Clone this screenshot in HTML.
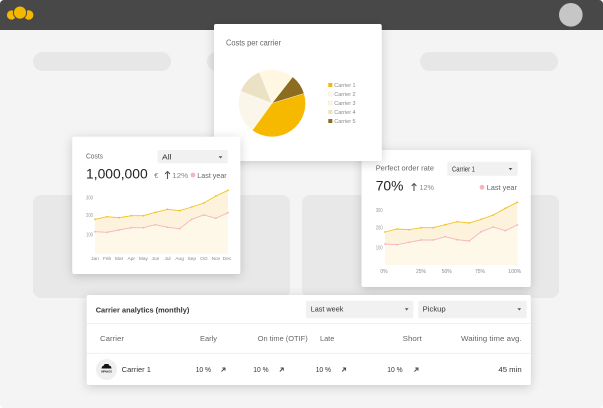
<!DOCTYPE html>
<html><head><meta charset="utf-8"><style>
html,body{margin:0;padding:0;background:#fff;}
svg{display:block;}
text{font-family:"Liberation Sans",sans-serif;}
</style></head><body>
<svg width="603" height="408" viewBox="0 0 603 408" xmlns="http://www.w3.org/2000/svg">
<defs>
<filter id="sh" x="-20%" y="-25%" width="140%" height="160%">
<feDropShadow dx="0" dy="2" stdDeviation="5" flood-color="#000" flood-opacity="0.18"/>
</filter>
</defs>
<!-- frame -->
<rect x="0" y="0" width="603" height="408" rx="4" fill="#f4f4f4"/>
<path d="M0 4 A4 4 0 0 1 4 0 H599 A4 4 0 0 1 603 4 V30 H0 Z" fill="#484848"/>
<!-- logo -->
<circle cx="11.5" cy="15" r="4.6" fill="#f5b800"/>
<circle cx="28.7" cy="15" r="4.7" fill="#f5b800"/>
<circle cx="20" cy="12.6" r="6.6" fill="#f5b800" stroke="#484848" stroke-width="1"/>
<!-- avatar -->
<circle cx="570.8" cy="14.8" r="11.8" fill="#c6c6c6"/>
<!-- pills -->
<rect x="33" y="52" width="138" height="19" rx="9.5" fill="#e7e7e7"/>
<rect x="207" y="52" width="138" height="19" rx="9.5" fill="#e7e7e7"/>
<rect x="420" y="52" width="138" height="19" rx="9.5" fill="#e7e7e7"/>
<!-- big gray blocks -->
<rect x="33" y="195" width="257" height="103" rx="8" fill="#e8e8e8"/>
<rect x="302" y="195" width="257" height="103" rx="8" fill="#e8e8e8"/>

<!-- Perfect order card -->
<rect x="361.5" y="150" width="169.2" height="137" rx="2" fill="#fff" filter="url(#sh)"/>
<text x="375.7" y="170.5" font-size="7.5" fill="#666" textLength="58.3" lengthAdjust="spacingAndGlyphs">Perfect order rate</text>
<rect x="447.3" y="161.7" width="70.4" height="14" rx="1" fill="#f1f1f1"/>
<text x="452" y="171.3" font-size="7.5" fill="#333" textLength="23" lengthAdjust="spacingAndGlyphs">Carrier 1</text>
<path d="M508.6 168 L512.4 168 L510.5 170.2 Z" fill="#555"/>
<text x="375.7" y="190.6" font-size="14" fill="#222" textLength="27.7" lengthAdjust="spacingAndGlyphs">70%</text>
<path d="M414 191 V183.5 M411.6 186 L414 183.5 L416.4 186" stroke="#555" stroke-width="1.1" fill="none"/>
<text x="419.5" y="190" font-size="7" fill="#888" textLength="14.5" lengthAdjust="spacingAndGlyphs">12%</text>
<circle cx="482" cy="187.3" r="2.4" fill="#f6b4be"/>
<text x="486.7" y="190.2" font-size="7.5" fill="#666" textLength="30.3" lengthAdjust="spacingAndGlyphs">Last year</text>
<g font-size="5.2" fill="#999">
<text x="375.7" y="211.9" textLength="7" lengthAdjust="spacingAndGlyphs">300</text>
<text x="375.7" y="229.4" textLength="7" lengthAdjust="spacingAndGlyphs">200</text>
<text x="375.7" y="249.4" textLength="7" lengthAdjust="spacingAndGlyphs">100</text>
</g>
<polygon points="385,265 385,232 397.03,229 409.06,229.7 421.09,227.7 433.12,227.7 445.15,224.7 457.18,221.7 469.21,223 481.24,219.3 493.27,215 505.3,208.3 517.33,202.3 517.33,265" fill="#fdf3dd"/>
<polygon points="385,265 385,244 397.03,244.7 409.06,242.3 421.09,240 433.12,240 445.15,236.7 457.18,239.7 469.21,241 481.24,231.7 493.27,227 505.3,230.7 517.33,225 517.33,265" fill="#fef8e8"/>
<polyline points="385,232 397.03,229 409.06,229.7 421.09,227.7 433.12,227.7 445.15,224.7 457.18,221.7 469.21,223 481.24,219.3 493.27,215 505.3,208.3 517.33,202.3" fill="none" stroke="#f4c21c" stroke-width="0.9"/>
<polyline points="385,244 397.03,244.7 409.06,242.3 421.09,240 433.12,240 445.15,236.7 457.18,239.7 469.21,241 481.24,231.7 493.27,227 505.3,230.7 517.33,225" fill="none" stroke="#f6b4be" stroke-width="0.9"/>
<g fill="#f4c21c">
<circle cx="385" cy="232" r="0.9"/><circle cx="397.03" cy="229" r="0.9"/><circle cx="409.06" cy="229.7" r="0.9"/><circle cx="421.09" cy="227.7" r="0.9"/><circle cx="433.12" cy="227.7" r="0.9"/><circle cx="445.15" cy="224.7" r="0.9"/><circle cx="457.18" cy="221.7" r="0.9"/><circle cx="469.21" cy="223" r="0.9"/><circle cx="481.24" cy="219.3" r="0.9"/><circle cx="493.27" cy="215" r="0.9"/><circle cx="505.3" cy="208.3" r="0.9"/><circle cx="517.33" cy="202.3" r="0.9"/>
</g>
<g fill="#f6b4be">
<circle cx="385" cy="244" r="0.9"/><circle cx="397.03" cy="244.7" r="0.9"/><circle cx="409.06" cy="242.3" r="0.9"/><circle cx="421.09" cy="240" r="0.9"/><circle cx="433.12" cy="240" r="0.9"/><circle cx="445.15" cy="236.7" r="0.9"/><circle cx="457.18" cy="239.7" r="0.9"/><circle cx="469.21" cy="241" r="0.9"/><circle cx="481.24" cy="231.7" r="0.9"/><circle cx="493.27" cy="227" r="0.9"/><circle cx="505.3" cy="230.7" r="0.9"/><circle cx="517.33" cy="225" r="0.9"/>
</g>
<g font-size="5" fill="#888" text-anchor="middle">
<text x="384" y="273">0%</text>
<text x="421" y="273">25%</text>
<text x="446.7" y="273">50%</text>
<text x="480" y="273">75%</text>
<text x="514.7" y="273">100%</text>
</g>

<!-- Pie card -->
<rect x="214" y="24" width="167.7" height="137" rx="2" fill="#fff" filter="url(#sh)"/>
<text x="226" y="45.3" font-size="8" fill="#666" textLength="55" lengthAdjust="spacingAndGlyphs">Costs per carrier</text>
<g stroke="#fff" stroke-width="0.3">
<path d="M272 103.3 L292.63 76.90 A33.5 33.5 0 0 1 304.04 93.50 Z" fill="#8c6d1f"/>
<path d="M272 103.3 L304.04 93.50 A33.5 33.5 0 0 1 252.31 130.40 Z" fill="#f6b900"/>
<path d="M272 103.3 L252.31 130.40 A33.5 33.5 0 0 1 240.72 91.29 Z" fill="#fbf6ea"/>
<path d="M272 103.3 L240.72 91.29 A33.5 33.5 0 0 1 259.45 72.24 Z" fill="#ebe1c4"/>
<path d="M272 103.3 L259.45 72.24 A33.5 33.5 0 0 1 292.63 76.90 Z" fill="#fff7e1"/>
</g>
<rect x="328.3" y="83" width="4" height="4" fill="#f6b900"/>
<rect x="328.3" y="92" width="4" height="4" fill="#fdf8ec" stroke="#f1e8d2" stroke-width="0.4"/>
<rect x="328.3" y="101" width="4" height="4" fill="#fff6dc" stroke="#f1e8d2" stroke-width="0.4"/>
<rect x="328.3" y="110" width="4" height="4" fill="#ebe0c0"/>
<rect x="328.3" y="119" width="4" height="4" fill="#8c6d1f"/>
<g font-size="5.5" fill="#888">
<text x="334.3" y="87" textLength="21.3" lengthAdjust="spacingAndGlyphs">Carrier 1</text>
<text x="334.3" y="96" textLength="21.3" lengthAdjust="spacingAndGlyphs">Carrier 2</text>
<text x="334.3" y="105" textLength="21.3" lengthAdjust="spacingAndGlyphs">Carrier 3</text>
<text x="334.3" y="114" textLength="21.3" lengthAdjust="spacingAndGlyphs">Carrier 4</text>
<text x="334.3" y="123" textLength="21.3" lengthAdjust="spacingAndGlyphs">Carrier 5</text>
</g>

<!-- Costs card -->
<rect x="72.3" y="136.7" width="168" height="137.3" rx="2" fill="#fff" filter="url(#sh)"/>
<text x="86" y="158.5" font-size="7.5" fill="#666" textLength="17" lengthAdjust="spacingAndGlyphs">Costs</text>
<rect x="157.7" y="150" width="70" height="13.3" rx="1" fill="#f1f1f1"/>
<text x="162" y="159.6" font-size="7.5" fill="#333" textLength="9.5" lengthAdjust="spacingAndGlyphs">All</text>
<path d="M218.6 156.3 L222.4 156.3 L220.5 158.5 Z" fill="#555"/>
<text x="86" y="178.6" font-size="14" fill="#222" textLength="61.7" lengthAdjust="spacingAndGlyphs">1,000,000</text>
<text x="154.3" y="178" font-size="7" fill="#777">€</text>
<path d="M167.5 179 V171.5 M165.1 174 L167.5 171.5 L169.9 174" stroke="#555" stroke-width="1.1" fill="none"/>
<text x="172.3" y="178" font-size="7" fill="#888" textLength="16" lengthAdjust="spacingAndGlyphs">12%</text>
<circle cx="193" cy="175" r="2.4" fill="#f6b4be"/>
<text x="197.3" y="178" font-size="7.5" fill="#666" textLength="29.4" lengthAdjust="spacingAndGlyphs">Last year</text>
<g font-size="5.2" fill="#999">
<text x="86" y="199.7" textLength="7" lengthAdjust="spacingAndGlyphs">300</text>
<text x="86" y="217.2" textLength="7" lengthAdjust="spacingAndGlyphs">200</text>
<text x="86" y="236.7" textLength="7" lengthAdjust="spacingAndGlyphs">100</text>
</g>
<polygon points="95,254 95,219.3 107.09,216.7 119.18,217.7 131.27,215.7 143.36,215.7 155.45,212.3 167.55,209.3 179.64,210.7 191.73,207 203.82,203 215.91,196 228,190.3 228,254" fill="#fdf3dd"/>
<polygon points="95,254 95,231.7 107.09,232.3 119.18,230 131.27,227.7 143.36,227.7 155.45,224.7 167.55,227.3 179.64,228.7 191.73,219.3 203.82,215 215.91,218.3 228,212.7 228,254" fill="#fef8e8"/>
<polyline points="95,219.3 107.09,216.7 119.18,217.7 131.27,215.7 143.36,215.7 155.45,212.3 167.55,209.3 179.64,210.7 191.73,207 203.82,203 215.91,196 228,190.3" fill="none" stroke="#f4c21c" stroke-width="0.9"/>
<polyline points="95,231.7 107.09,232.3 119.18,230 131.27,227.7 143.36,227.7 155.45,224.7 167.55,227.3 179.64,228.7 191.73,219.3 203.82,215 215.91,218.3 228,212.7" fill="none" stroke="#f6b4be" stroke-width="0.9"/>
<g fill="#f4c21c">
<circle cx="95" cy="219.3" r="0.9"/><circle cx="107.09" cy="216.7" r="0.9"/><circle cx="119.18" cy="217.7" r="0.9"/><circle cx="131.27" cy="215.7" r="0.9"/><circle cx="143.36" cy="215.7" r="0.9"/><circle cx="155.45" cy="212.3" r="0.9"/><circle cx="167.55" cy="209.3" r="0.9"/><circle cx="179.64" cy="210.7" r="0.9"/><circle cx="191.73" cy="207" r="0.9"/><circle cx="203.82" cy="203" r="0.9"/><circle cx="215.91" cy="196" r="0.9"/><circle cx="228" cy="190.3" r="0.9"/>
</g>
<g fill="#f6b4be">
<circle cx="95" cy="231.7" r="0.9"/><circle cx="107.09" cy="232.3" r="0.9"/><circle cx="119.18" cy="230" r="0.9"/><circle cx="131.27" cy="227.7" r="0.9"/><circle cx="143.36" cy="227.7" r="0.9"/><circle cx="155.45" cy="224.7" r="0.9"/><circle cx="167.55" cy="227.3" r="0.9"/><circle cx="179.64" cy="228.7" r="0.9"/><circle cx="191.73" cy="219.3" r="0.9"/><circle cx="203.82" cy="215" r="0.9"/><circle cx="215.91" cy="218.3" r="0.9"/><circle cx="228" cy="212.7" r="0.9"/>
</g>
<g font-size="4.8" fill="#888" text-anchor="middle">
<text x="95" y="260.2">Jan</text>
<text x="107.09" y="260.2">Feb</text>
<text x="119.18" y="260.2">Mar</text>
<text x="131.27" y="260.2">Apr</text>
<text x="143.36" y="260.2">May</text>
<text x="155.45" y="260.2">Jun</text>
<text x="167.55" y="260.2">Jul</text>
<text x="179.64" y="260.2">Aug</text>
<text x="191.73" y="260.2">Sep</text>
<text x="203.82" y="260.2">Oct</text>
<text x="215.91" y="260.2">Nov</text>
<text x="227" y="260.2">Dec</text>
</g>

<!-- Table card -->
<rect x="86.7" y="295" width="444" height="90" rx="2" fill="#fff" filter="url(#sh)"/>
<text x="95.7" y="312.5" font-size="7.5" font-weight="bold" fill="#333" textLength="93.6" lengthAdjust="spacingAndGlyphs">Carrier analytics (monthly)</text>
<rect x="306" y="300.7" width="107.3" height="17.6" rx="1" fill="#f1f1f1"/>
<text x="310.7" y="311.6" font-size="7.5" fill="#333" textLength="32.7" lengthAdjust="spacingAndGlyphs">Last week</text>
<path d="M404.8 308.3 L408.6 308.3 L406.7 310.5 Z" fill="#555"/>
<rect x="418.3" y="300.7" width="108.4" height="17.6" rx="1" fill="#f1f1f1"/>
<text x="422.7" y="311.6" font-size="7.5" fill="#333" textLength="23" lengthAdjust="spacingAndGlyphs">Pickup</text>
<path d="M517.4 308.3 L521.2 308.3 L519.3 310.5 Z" fill="#555"/>
<line x1="86.7" y1="323.3" x2="530.7" y2="323.3" stroke="#eeeeee" stroke-width="0.8"/>
<g font-size="7.5" fill="#666">
<text x="100" y="341" textLength="24" lengthAdjust="spacingAndGlyphs">Carrier</text>
<text x="200" y="341" textLength="17" lengthAdjust="spacingAndGlyphs">Early</text>
<text x="257.7" y="341" textLength="50" lengthAdjust="spacingAndGlyphs">On time (OTIF)</text>
<text x="320" y="341" textLength="14.3" lengthAdjust="spacingAndGlyphs">Late</text>
<text x="402.7" y="341" textLength="19" lengthAdjust="spacingAndGlyphs">Short</text>
<text x="461" y="341" textLength="60.7" lengthAdjust="spacingAndGlyphs">Waiting time avg.</text>
</g>
<line x1="86.7" y1="353.3" x2="530.7" y2="353.3" stroke="#eeeeee" stroke-width="0.8"/>
<circle cx="106.5" cy="369.5" r="10.5" fill="#efefef"/>
<path d="M101.5 368.5 Q102 365.5 104 365.5 L104.5 364 L108.5 364 L109 365.5 Q111.2 365.5 111.5 368.5 Z" fill="#111"/>
<text x="106.5" y="372.6" font-size="2.6" font-weight="bold" fill="#222" text-anchor="middle" textLength="11" lengthAdjust="spacingAndGlyphs">HIPANGO</text>
<g font-size="7.5" fill="#333">
<text x="121.7" y="372" textLength="29.3" lengthAdjust="spacingAndGlyphs">Carrier 1</text>
<text x="195.7" y="372" textLength="15.3" lengthAdjust="spacingAndGlyphs">10 %</text>
<text x="253.3" y="372" textLength="15.3" lengthAdjust="spacingAndGlyphs">10 %</text>
<text x="315.7" y="372" textLength="15.3" lengthAdjust="spacingAndGlyphs">10 %</text>
<text x="387.3" y="372" textLength="15.3" lengthAdjust="spacingAndGlyphs">10 %</text>
<text x="521.7" y="372" text-anchor="end" textLength="23.3" lengthAdjust="spacingAndGlyphs">45 min</text>
</g>
<g stroke="#444" stroke-width="0.9" fill="none">
<path d="M221.5 371.5 L225 368 M222.3 368 H225 V370.7"/>
<path d="M279.8 371.5 L283.3 368 M280.6 368 H283.3 V370.7"/>
<path d="M342.1 371.5 L345.6 368 M342.9 368 H345.6 V370.7"/>
<path d="M414.5 371.5 L418 368 M415.3 368 H418 V370.7"/>
</g>
</svg>
</body></html>
